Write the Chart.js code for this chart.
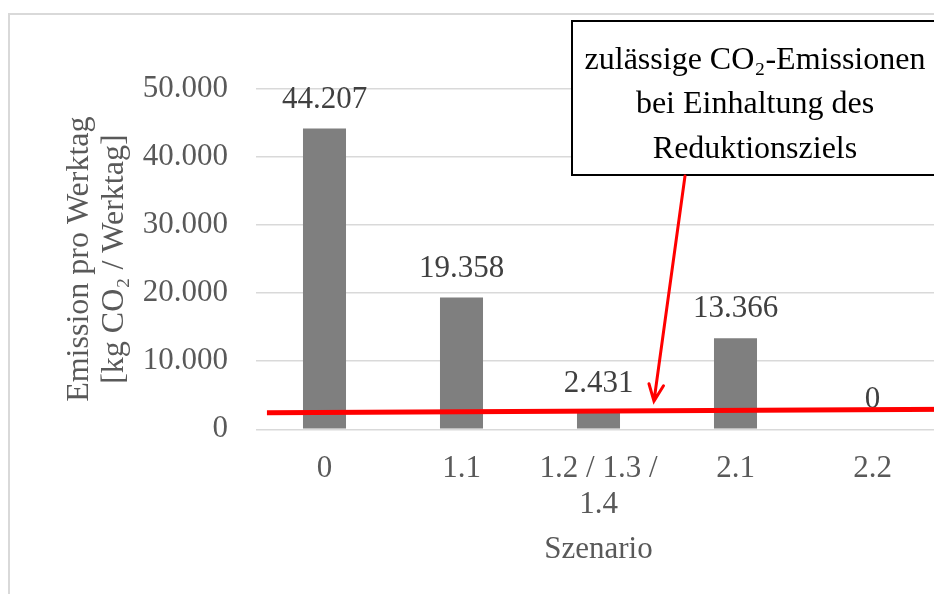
<!DOCTYPE html>
<html>
<head>
<meta charset="utf-8">
<script src="https://cdn.jsdelivr.net/npm/chart.js@4"></script>
<style>
  html, body { margin: 0; padding: 0; background: #fff; overflow: hidden; width: 934px; height: 594px; }
  #frame { position: absolute; left: 8px; top: 13px; width: 1000px; height: 1000px; border: 2px solid #d9d9d9; }
  #wrap { position: absolute; left: 0; top: 0; width: 960px; height: 600px; }
</style>
</head>
<body>
<div id="frame"></div>
<div id="wrap"><canvas id="c" width="960" height="600"></canvas></div>
<script>
// Emissions per working day for each scenario
const scenarios = ['0', '1.1', ['1.2 / 1.3 /', '1.4'], '2.1', '2.2'];
const emissions = [44207, 19358, 2431, 13366, 0];
const yTicks = [0, 10000, 20000, 30000, 40000, 50000];

// Permitted emission level (hand-drawn line: value at its left and right end)
const limitX = [-0.42, 4.6];
const limitY = [2440, 2950];
const arrowTip = [2.405, 4150];
const noteLines = ['zulässige CO₂-Emissionen', 'bei Einhaltung des', 'Reduktionsziels'];

const FONT = "'Liberation Serif', 'Times New Roman', serif";
const fmt = v => String(Math.round(v)).replace(/\B(?=(\d{3})+(?!\d))/g, '.');

const overlay = {
  id: 'overlay',
  afterDatasetsDraw(chart) {
    const ctx = chart.ctx;
    const xs = chart.scales.x, ys = chart.scales.y;
    const meta = chart.getDatasetMeta(0);

    // value labels above bars
    ctx.save();
    ctx.font = '31px ' + FONT;
    ctx.fillStyle = '#404040';
    ctx.textAlign = 'center';
    ctx.textBaseline = 'middle';
    meta.data.forEach((bar, i) => {
      ctx.fillText(fmt(emissions[i]), bar.x, bar.y - 29);
    });
    ctx.restore();

    // permitted emission line
    ctx.save();
    ctx.strokeStyle = '#ff0000';
    ctx.lineWidth = 5;
    ctx.beginPath();
    ctx.moveTo(xs.getPixelForValue(limitX[0]), ys.getPixelForValue(limitY[0]));
    ctx.lineTo(xs.getPixelForValue(limitX[1]), ys.getPixelForValue(limitY[1]));
    ctx.stroke();
    ctx.restore();

    // note box
    const bx = 572, by = 21, bw = 380, bh = 154;
    ctx.save();
    ctx.fillStyle = '#fff';
    ctx.fillRect(bx, by, bw, bh);
    ctx.strokeStyle = '#000';
    ctx.lineWidth = 2;
    ctx.strokeRect(bx, by, bw, bh);
    ctx.fillStyle = '#000';
    ctx.font = '32px ' + FONT;
    ctx.textAlign = 'center';
    ctx.textBaseline = 'alphabetic';
    const base = [69, 113, 158];
    noteLines.forEach((t, i) => ctx.fillText(t, 755, base[i]));
    ctx.restore();

    // arrow from note to the line
    const sx = 685, sy = by + bh + 1;
    const tx = xs.getPixelForValue(arrowTip[0]), ty = ys.getPixelForValue(arrowTip[1]);
    const ang = Math.atan2(ty - sy, tx - sx);
    const hl = 18, spread = 0.42;
    ctx.save();
    ctx.strokeStyle = '#ff0000';
    ctx.lineWidth = 3;
    ctx.lineCap = 'round';
    ctx.beginPath();
    ctx.moveTo(sx, sy);
    ctx.lineTo(tx, ty);
    ctx.moveTo(tx - hl * Math.cos(ang - spread), ty - hl * Math.sin(ang - spread));
    ctx.lineTo(tx, ty);
    ctx.lineTo(tx - hl * Math.cos(ang + spread), ty - hl * Math.sin(ang + spread));
    ctx.stroke();
    ctx.restore();
  }
};

new Chart(document.getElementById('c'), {
  type: 'bar',
  data: {
    labels: scenarios,
    datasets: [{
      data: emissions,
      backgroundColor: '#7f7f7f',
      borderWidth: 0,
      categoryPercentage: 1,
      barPercentage: 0.314
    }]
  },
  options: {
    responsive: false,
    animation: false,
    events: [],
    layout: { padding: { left: 58, top: 89, right: 19, bottom: 0 } },
    plugins: { legend: { display: false }, tooltip: { enabled: false } },
    scales: {
      x: {
        grid: { display: false },
        border: { display: false },
        ticks: {
          color: '#595959',
          font: { family: FONT, size: 31, lineHeight: 1.16 },
          padding: 14,
          maxRotation: 0,
          autoSkip: false
        },
        title: {
          display: true,
          text: 'Szenario',
          color: '#595959',
          font: { family: FONT, size: 31, lineHeight: 1.16 },
          padding: { top: 0, bottom: 32 }
        },
        afterFit: s => { s.height = 600 - 429.3; }
      },
      y: {
        min: 0,
        max: 50000,
        afterBuildTicks: s => { s.ticks = yTicks.map(v => ({ value: v })); },
        grid: { color: '#d9d9d9', lineWidth: 1.5, drawTicks: false },
        border: { display: false },
        ticks: {
          color: '#595959',
          font: { family: FONT, size: 31 },
          padding: 28,
          callback: v => fmt(v)
        },
        title: {
          display: true,
          text: ['Emission pro Werktag', '[kg CO₂ / Werktag]'],
          color: '#595959',
          font: { family: FONT, size: 32, lineHeight: 1.1 },
          padding: { top: 4, bottom: 4 }
        },
        afterFit: s => { s.width = 256 - 58; }
      }
    }
  },
  plugins: [overlay]
});
</script>
</body>
</html>
